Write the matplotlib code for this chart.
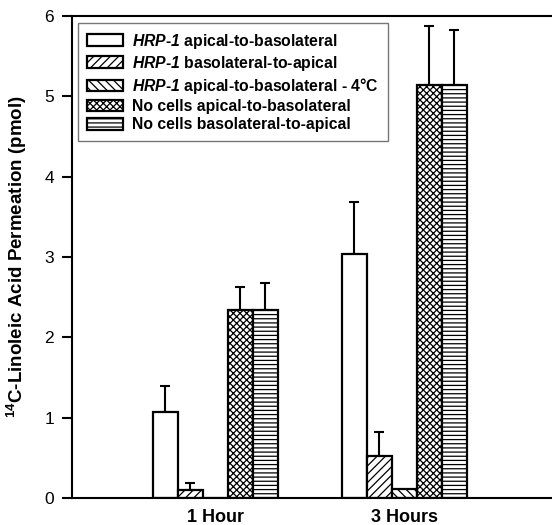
import numpy as np
import matplotlib
matplotlib.use("Agg")
import matplotlib.pyplot as plt

plt.rcParams["font.family"] = ["Liberation Sans", "DejaVu Sans"]
plt.rcParams["mathtext.fontset"] = "custom"
plt.rcParams["mathtext.rm"] = "Liberation Sans:bold"
plt.rcParams["mathtext.bf"] = "Liberation Sans:bold:italic"
plt.rcParams["hatch.linewidth"] = 0.9

# --- dados ---
grupos = ["1 Hour", "3 Hours"]
series = [
    "$\\mathbf{HRP}$-$\\mathbf{1}$ apical-to-basolateral",
    "$\\mathbf{HRP}$-$\\mathbf{1}$ basolateral-to-apical",
    "$\\mathbf{HRP}$-$\\mathbf{1}$ apical-to-basolateral - 4°C",
    "No cells apical-to-basolateral",
    "No cells basolateral-to-apical",
]
valores = [
    [1.07, 3.04],
    [0.10, 0.52],
    [0.00, 0.11],
    [2.34, 5.14],
    [2.34, 5.14],
]
erros = [
    [0.32, 0.65],
    [0.09, 0.30],
    [0.00, 0.00],
    [0.29, 0.74],
    [0.34, 0.68],
]
hachuras = ["", "////", "\\\\\\\\", "xxxxx", "----"]

fig = plt.figure(figsize=(5.52, 5.25), dpi=100)
ax = fig.add_axes([0.1304, 0.0514, 0.8696, 0.9181])

x = np.arange(1, len(grupos) + 1)
w = 0.1323
for i, (nome, v, e, h) in enumerate(zip(series, valores, erros, hachuras)):
    pos = x + (i - 2) * w
    ax.bar(pos, v, width=w, facecolor="white", edgecolor="black",
           linewidth=1.6, hatch=h, label=nome, zorder=2)
    e = np.array(e)
    mask = e > 0
    ax.errorbar(pos[mask], np.array(v)[mask],
                yerr=[np.zeros(mask.sum()), e[mask]],
                fmt="none", ecolor="black", elinewidth=1.5,
                capsize=3.5, capthick=1.5, zorder=1)

ax.set_xlim(0.243, 2.783)
ax.set_ylim(0, 6)
ax.set_yticks(range(7))
ax.set_xticks(x)
ax.set_xticklabels(grupos, fontsize=13, fontweight="bold")
ax.tick_params(axis="x", length=0, pad=8)
ax.tick_params(axis="y", length=7, width=1.5, labelsize=12.5, pad=6)
ax.spines["right"].set_visible(False)
for s in ["left", "top", "bottom"]:
    ax.spines[s].set_linewidth(1.5)

ax.set_ylabel("$^{14}$C-Linoleic Acid Permeation (pmol)", fontsize=13.5,
              fontweight="bold")
ax.yaxis.set_label_coords(-0.09, 0.5)

leg = ax.legend(loc="upper left", bbox_to_anchor=(0.0125, 0.9855),
                prop={"weight": "bold", "size": 11.3}, frameon=True,
                fancybox=False, edgecolor="#555555", handlelength=2.35,
                handleheight=0.77, labelspacing=0.2, borderpad=0.55,
                handletextpad=0.57, borderaxespad=0)
leg.get_frame().set_linewidth(1.0)

fig.savefig("out.png", dpi=100)
